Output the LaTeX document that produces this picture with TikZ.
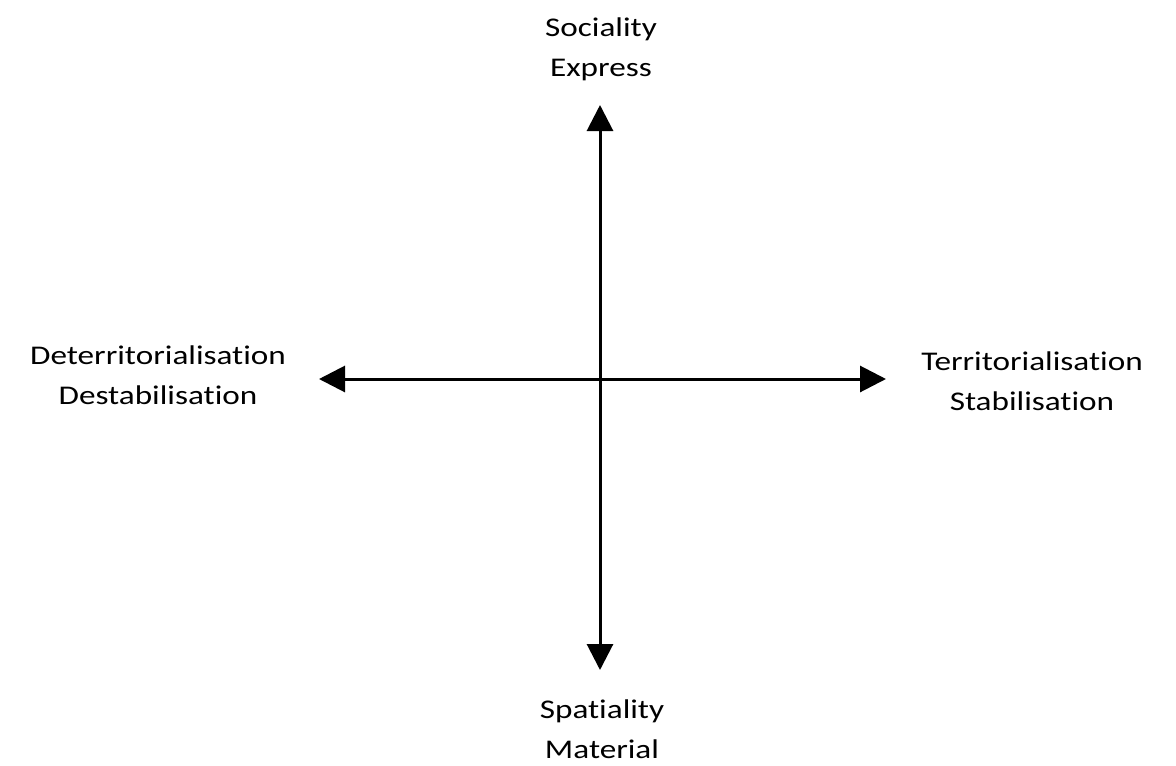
\documentclass[tikz,border=0pt]{standalone}
\usepackage{fontspec}
\setmainfont{Carlito}[FakeStretch=1.23,Ligatures=CommonOff]
\usetikzlibrary{arrows.meta}
\begin{document}
\begin{tikzpicture}[x=1pt,y=-1pt,
  axis/.style={line width=3pt,{Triangle[length=26pt,width=26pt]}-{Triangle[length=26pt,width=26pt]}},
  lbl/.style={align=center,font=\fontsize{27}{40}\selectfont,inner sep=0pt}]
\useasboundingbox (0,0) rectangle (1176,766);
\coordinate (top) at (600,105);
\coordinate (bot) at (600,670);
\coordinate (lft) at (319,379);
\coordinate (rgt) at (886,379);
\draw[axis] (bot) -- (top);
\draw[axis] (lft) -- (rgt);
\node[lbl] (soc) at (601,49) {Sociality\\Express};
\node[lbl] (det) at (158,375) {Deterritorialisation\\Destabilisation};
\node[lbl] (ter) at (1032,381) {Territorialisation\\Stabilisation};
\node[lbl] (spa) at (602,729) {Spatiality\\Material};
\end{tikzpicture}
\end{document}
